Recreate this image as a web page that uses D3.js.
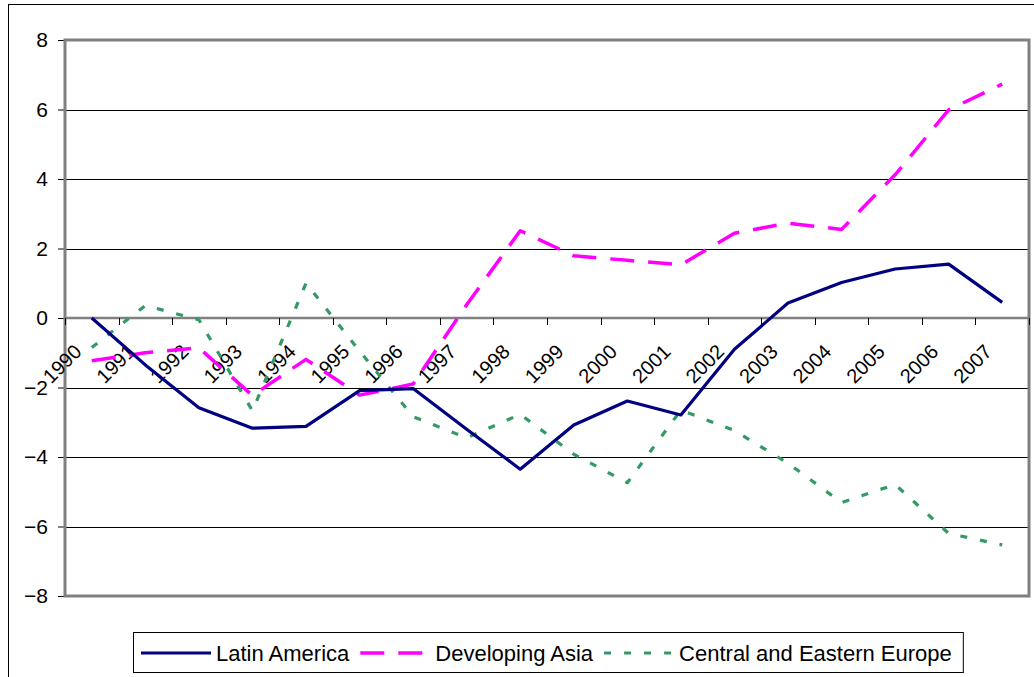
<!DOCTYPE html>
<html>
<head>
<meta charset="utf-8">
<script src="https://cdn.jsdelivr.net/npm/d3@7"></script>
<style>
  body { margin: 0; background: #fff; }
  svg { display: block; font-family: "Liberation Sans", Arial, sans-serif; }
</style>
</head>
<body>
<svg id="chartSvg" width="1034" height="677"></svg>
<script>
const years = ["1990", "1991", "1992", "1993", "1994", "1995", "1996", "1997", "1998",
    "1999", "2000", "2001", "2002", "2003", "2004", "2005", "2006", "2007"];
const latinAmerica = [0, -1.35, -2.58, -3.17, -3.12, -2.09, -2.03, -3.2, -4.35,
    -3.08, -2.39, -2.79, -0.9, 0.43, 1.02, 1.41, 1.55, 0.45];
const developingAsia = [-1.23, -1.0, -0.86, -2.23, -1.19, -2.22, -1.9, 0.38, 2.51,
    1.79, 1.66, 1.53, 2.44, 2.73, 2.55, 4.12, 5.99, 6.73];
const centralEasternEurope = [-0.85, 0.36, -0.05, -2.67, 1.0, -0.95, -2.84, -3.45, -2.77,
    -3.92, -4.74, -2.65, -3.24, -4.18, -5.31, -4.79, -6.2, -6.53];
const seriesNames = ["Latin America", "Developing Asia", "Central and Eastern Europe"];
const yTicks = [-8, -6, -4, -2, 0, 2, 4, 6, 8];

function createLineChart() {
    const svg = d3.select("#chartSvg");
    const margin = { top: 40, right: 5, bottom: 81, left: 65 };
    const width = +svg.attr("width") - margin.left - margin.right;
    const height = +svg.attr("height") - margin.top - margin.bottom;

    // outer chart frame (runs off the page to the right and bottom)
    svg.append("rect")
        .attr("x", 8.5).attr("y", 4.5)
        .attr("width", 1100).attr("height", 720)
        .attr("fill", "#fff").attr("stroke", "#000").attr("stroke-width", 1);

    const g = svg.append("g").attr("transform", `translate(${margin.left},${margin.top})`);

    const x = d3.scaleBand().domain(years).range([0, width]).padding(0);
    const y = d3.scaleLinear().domain([-8, 8]).range([height, 0]);
    const cx = d => x(d) + x.bandwidth() / 2;

    // gridlines
    g.selectAll(".grid")
        .data(yTicks.filter(v => v !== 0 && Math.abs(v) !== 8))
        .enter()
        .append("line")
        .attr("x1", 0).attr("x2", width)
        .attr("y1", d => Math.round(y(d)) + 0.5).attr("y2", d => Math.round(y(d)) + 0.5)
        .attr("stroke", "#000").attr("stroke-width", 1);

    // y axis ticks + labels
    const yAxis = g.append("g")
        .call(d3.axisLeft(y).tickValues(yTicks).tickSize(7).tickPadding(10).tickFormat(d3.format("d")));
    yAxis.select(".domain").remove();
    yAxis.selectAll("line").attr("stroke", "#000");
    yAxis.selectAll("text")
        .attr("font-size", 21)
        .attr("fill", "#000")
        .attr("font-family", "Liberation Sans, Arial, sans-serif");

    // plot area frame
    g.append("rect")
        .attr("x", 0).attr("y", 0)
        .attr("width", width).attr("height", height)
        .attr("fill", "none").attr("stroke", "#808080").attr("stroke-width", 3);

    // x axis at zero
    const y0 = y(0);
    g.append("line")
        .attr("x1", 0).attr("x2", width)
        .attr("y1", y0).attr("y2", y0)
        .attr("stroke", "#808080").attr("stroke-width", 2.5);
    g.selectAll(".xtick")
        .data(d3.range(years.length + 1))
        .enter()
        .append("line")
        .attr("x1", i => Math.round(i * x.step()) + 0.5)
        .attr("x2", i => Math.round(i * x.step()) + 0.5)
        .attr("y1", y0).attr("y2", y0 + 7)
        .attr("stroke", "#000").attr("stroke-width", 1);
    g.selectAll(".xlabel")
        .data(years)
        .enter()
        .append("text")
        .attr("transform", d => `translate(${cx(d) - 9},${y0 + 35}) rotate(-45)`)
        .attr("text-anchor", "end")
        .attr("font-size", 20)
        .attr("fill", "#000")
        .text(d => d);

    const series = [
        { name: seriesNames[0], values: latinAmerica, color: "#000080", width: 3.2, dash: null },
        { name: seriesNames[1], values: developingAsia, color: "#ff00ff", width: 3.5, dash: "24,14" },
        { name: seriesNames[2], values: centralEasternEurope, color: "#339966", width: 3.2, dash: "7,13" }
    ];

    const line = d3.line()
        .x((v, i) => cx(years[i]))
        .y(v => y(v));

    g.selectAll(".series")
        .data(series.slice().reverse())
        .enter()
        .append("path")
        .attr("d", d => line(d.values))
        .attr("fill", "none")
        .attr("stroke", d => d.color)
        .attr("stroke-width", d => d.width)
        .attr("stroke-dasharray", d => d.dash)
        .attr("stroke-linejoin", "round");

    // legend
    const legend = svg.append("g").attr("transform", "translate(133,632)");
    const box = legend.append("rect")
        .attr("x", 0.5).attr("y", 0.5).attr("height", 40)
        .attr("fill", "#fff").attr("stroke", "#000").attr("stroke-width", 1);
    let pos = 8;
    series.forEach(s => {
        legend.append("line")
            .attr("x1", pos).attr("x2", pos + 70)
            .attr("y1", 21).attr("y2", 21)
            .attr("stroke", s.color)
            .attr("stroke-width", s.width)
            .attr("stroke-dasharray", s.dash);
        const t = legend.append("text")
            .attr("x", pos + 75).attr("y", 21)
            .attr("dy", "0.36em")
            .attr("font-size", 22)
            .attr("fill", "#000")
            .text(s.name);
        pos += 75 + t.node().getComputedTextLength() + 11;
    });
    box.attr("width", pos);
}

createLineChart();
</script>
</body>
</html>
